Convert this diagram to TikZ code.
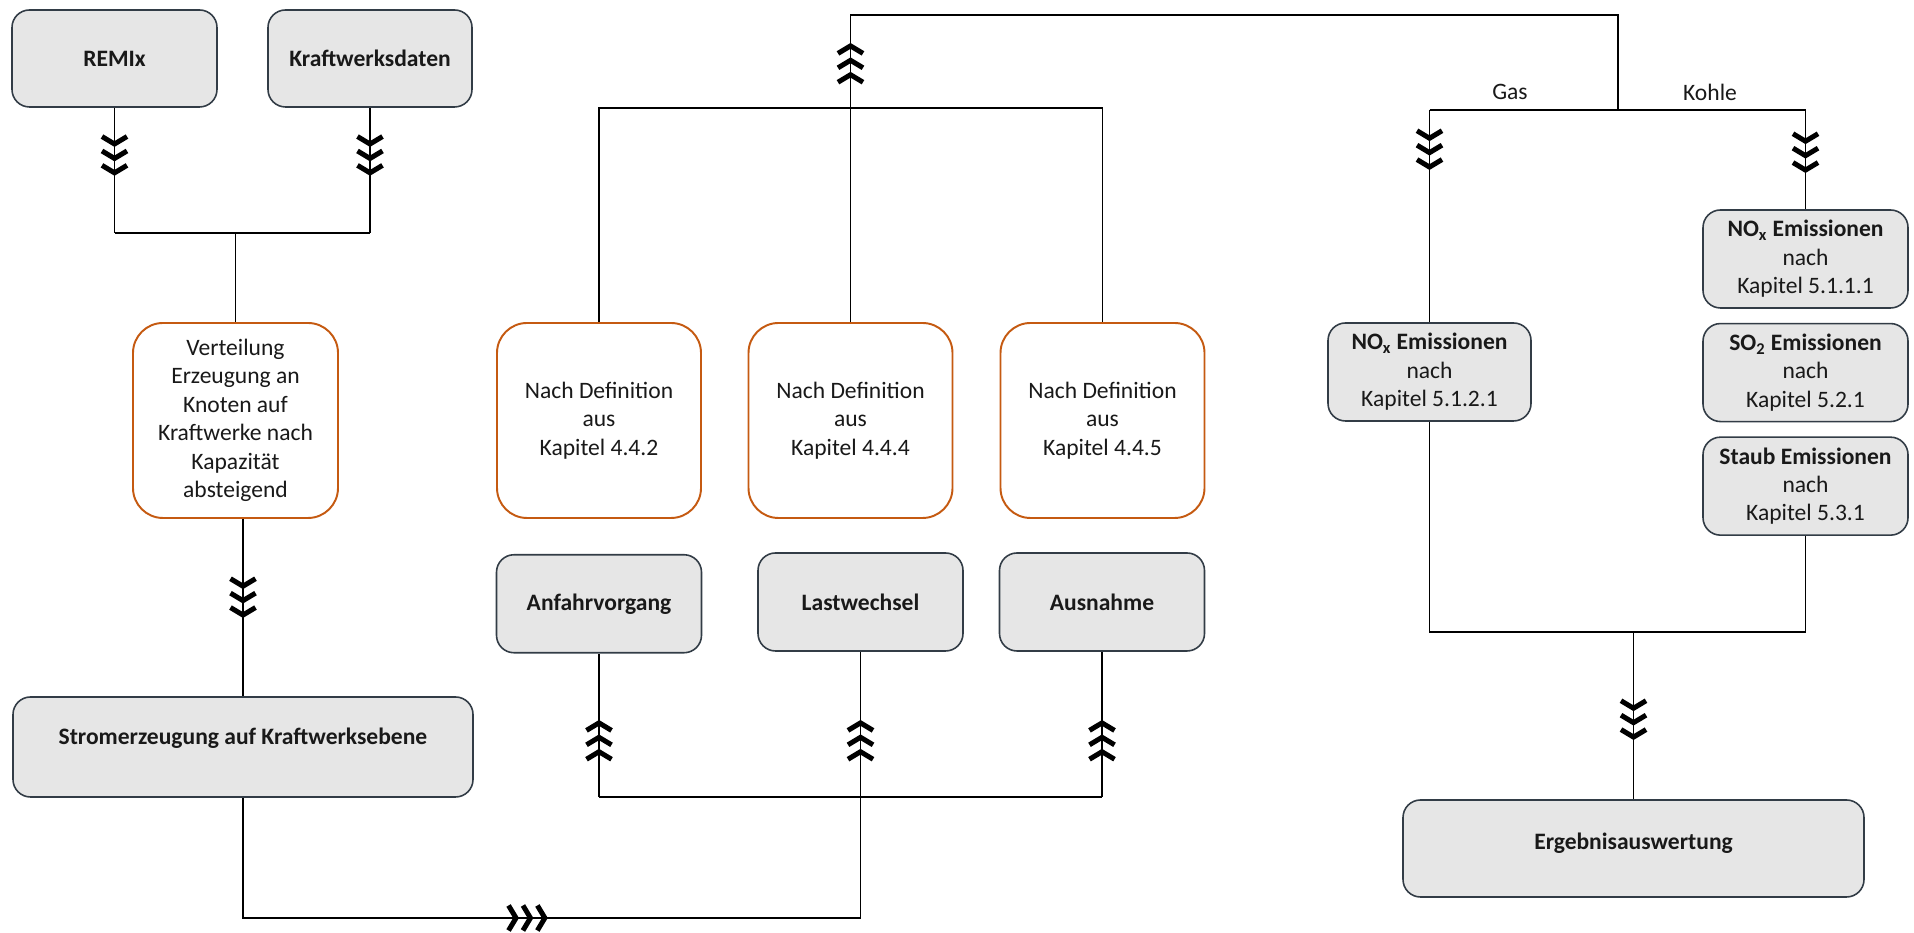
\documentclass[tikz,border=0pt]{standalone}
\usepackage{fontspec}
\setmainfont{Carlito}
\usetikzlibrary{arrows.meta}
\usetikzlibrary{decorations.markings}
\usetikzlibrary{positioning}

\definecolor{boxgrey}{RGB}{230,230,230}
\definecolor{boxedge}{RGB}{50,60,70}
\definecolor{defrahmen}{RGB}{197,90,17}
\newcommand{\boxfont}{\fontsize{13.4}{16.2}\selectfont}

\tikzset{
  chevron/.tip={Straight Barb[length=0.15cm,width=0.5cm,line width=0.1cm,sep=0.03cm] Straight Barb[length=0.15cm,width=0.5cm,line width=0.1cm,sep=0.03cm] Straight Barb[length=0.15cm,width=0.5cm,line width=0.1cm]},
  grau/.style={rectangle,rounded corners=0.35cm,draw=boxedge,fill=boxgrey,line width=0.9pt,font=\boxfont\bfseries,align=center,text=black!90,inner sep=0pt},
  emission/.style={grau,font=\boxfont,minimum width=4.10cm,minimum height=1.96cm},
  definition/.style={rectangle,rounded corners=0.6cm,draw=defrahmen,fill=white,line width=1.1pt,font=\boxfont,align=center,text=black!90,minimum width=4.08cm,minimum height=3.90cm,inner sep=0pt},
  flow/.style={draw=black,line width=1.1pt},
  chevat/.style={postaction={decorate},decoration={markings,mark=at position #1 with {\arrow{chevron}}}}
}

\begin{document}
\begin{tikzpicture}
\fill[white] (0,0) rectangle (38.28,18.66);

\node[grau,minimum width=4.10cm,minimum height=1.94cm] (remix) at (2.29,17.49) {REMIx};
\node[grau,minimum width=4.08cm,minimum height=1.94cm] (kwd) at (7.40,17.49) {Kraftwerksdaten};
\node[definition,minimum width=4.10cm] (vert) at (4.71,10.25) {Verteilung\\Erzeugung an\\Knoten auf\\Kraftwerke nach\\Kapazität\\absteigend};
\node[grau,minimum width=9.20cm,minimum height=2.00cm,text depth=0.45cm] (strom) at (4.86,3.72) {Stromerzeugung auf Kraftwerksebene};

\node[definition] (def1) at (11.98,10.25) {Nach Definition\\aus\\Kapitel 4.4.2};
\node[definition] (def2) at (17.01,10.25) {Nach Definition\\aus\\Kapitel 4.4.4};
\node[definition] (def3) at (22.05,10.25) {Nach Definition\\aus\\Kapitel 4.4.5};
\node[grau,minimum width=4.10cm,minimum height=1.96cm,below=0.70cm of def1] (anf) {Anfahrvorgang};
\node[grau,minimum width=4.10cm,minimum height=1.96cm] (last) at (17.21,6.62) {Lastwechsel};
\node[grau,minimum width=4.10cm,minimum height=1.96cm] (aus) at (22.04,6.62) {Ausnahme};

\node[emission,minimum width=4.06cm] (noxg) at (28.59,11.22) {\textbf{NO\textsubscript{x} Emissionen}\\nach\\Kapitel 5.1.2.1};
\node[emission] (noxk) at (36.11,13.48) {\textbf{NO\textsubscript{x} Emissionen}\\nach\\Kapitel 5.1.1.1};
\node[emission,below=0.28cm of noxk] (so2) {\textbf{SO\textsubscript{2} Emissionen}\\nach\\Kapitel 5.2.1};
\node[emission,below=0.28cm of so2] (staub) {\textbf{Staub Emissionen}\\nach\\Kapitel 5.3.1};
\node[grau,minimum width=9.22cm,minimum height=1.94cm,text depth=0.3cm] (erg) at (32.67,1.69) {Ergebnisauswertung};

\node[font=\boxfont,text=black!90] (gas) at (30.20,16.82) {Gas};
\node[font=\boxfont,text=black!90] (kohle) at (34.20,16.82) {Kohle};

\coordinate (jA) at (4.71,14.00);
\draw[flow,chevat=1.36cm] (remix.south) -- (remix.south |- jA);
\draw[flow,chevat=1.36cm] (kwd.south) -- (kwd.south |- jA);
\draw[flow] (remix.south |- jA) -- (kwd.south |- jA);
\draw[flow] (jA) -- (vert.north);
\draw[flow,chevat=1.98cm] (vert.south -| strom.north) -- (strom.north);

\coordinate (jB) at (17.21,2.72);
\coordinate (jC) at (17.21,0.30);
\draw[flow,chevat=8.50cm] (strom.south) |- (jC) -- (jB);
\draw[flow,chevat=1.54cm] (jB) -- (last.south);
\draw[flow] (anf.south |- jB) -- (aus.south |- jB);
\draw[flow,chevat=1.54cm] (anf.south |- jB) -- (anf.south);
\draw[flow,chevat=1.54cm] (aus.south |- jB) -- (aus.south);

\coordinate (jD) at (17.01,16.50);
\coordinate (jE) at (32.36,18.36);
\coordinate (jF) at (32.36,16.46);
\draw[flow] (def1.north) |- (jD) -| (def3.north);
\draw[flow] (def2.north) -- (jD);
\draw[flow,chevat=1.30cm] (jD) |- (jE) -- (jF);
\draw[flow] (noxg.north |- jF) -- (noxk.north |- jF);
\draw[flow,chevat=1.20cm] (noxg.north |- jF) -- (noxg.north);
\draw[flow,chevat=1.26cm] (noxk.north |- jF) -- (noxk.north);

\coordinate (jG) at (32.67,6.02);
\draw[flow] (noxg.south) |- (jG) -| (staub.south);
\draw[flow,chevat=2.16cm] (jG) -- (erg.north);

\end{tikzpicture}
\end{document}
